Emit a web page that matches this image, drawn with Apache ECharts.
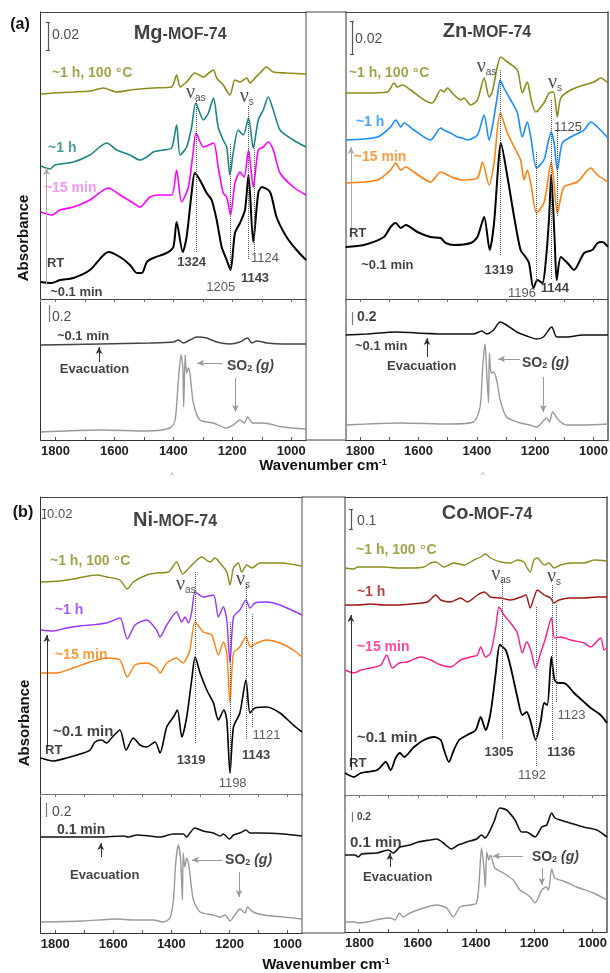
<!DOCTYPE html>
<html lang="en">
<head>
<meta charset="UTF-8">
<title>MOF-74 SO2 IR spectra</title>
<script src="https://cdn.jsdelivr.net/npm/echarts@6/dist/echarts.min.js"></script>
<style>
  html, body { margin: 0; padding: 0; background: #fff; }
  #main { width: 610px; height: 973px; }
</style>
</head>
<body>
<div id="main"></div>
<script>
// wavenumber range (cm-1), axis runs high -> low
var waveMin = 950, waveMax = 1850;
var tickLabels = [1800, 1600, 1400, 1200, 1000];

// ---- Mg-MOF-74 (a, left) : [wavenumber, absorbance a.u.] ----
var mgHeat = [[1850,205],[1807,206],[1739,207],[1683,208],[1638,211],[1592,207],[1547,209],[1468,211],[1406,212],[1389,224],[1377,212],[1355,217],[1327,226],[1298,222],[1276,227],[1264,229],[1253,221],[1231,214],[1208,204],[1191,219],[1174,217],[1151,221],[1140,216],[1123,221],[1106,226],[1084,232],[1061,227],[1016,226],[950,225]];
var mgOneHour = [[1850,133],[1818,130],[1802,134],[1739,137],[1683,144],[1626,156],[1592,149],[1547,144],[1513,139],[1490,142],[1468,147],[1434,149],[1406,151],[1389,174],[1377,144],[1355,152],[1338,172],[1324,196],[1298,179],[1281,186],[1264,201],[1248,172],[1231,159],[1219,152],[1208,124],[1197,146],[1180,169],[1163,164],[1145,181],[1129,151],[1112,179],[1095,189],[1078,202],[1061,189],[1038,169],[993,159],[950,152]];
var mgFifteen = [[1850,87],[1813,84],[1785,89],[1739,92],[1683,99],[1620,111],[1581,104],[1536,96],[1513,92],[1479,102],[1445,104],[1406,104],[1389,129],[1372,97],[1349,112],[1332,149],[1323,166],[1298,152],[1264,156],[1248,132],[1231,106],[1219,102],[1206,84],[1191,116],[1174,127],[1160,122],[1145,149],[1129,112],[1112,149],[1095,152],[1078,157],[1061,149],[1038,126],[993,112],[950,104]];
var mgRT = [[1850,17],[1813,16],[1785,19],[1739,21],[1683,29],[1620,47],[1581,42],[1547,34],[1524,26],[1507,26],[1490,37],[1468,41],[1423,46],[1400,52],[1389,77],[1368,47],[1355,62],[1338,106],[1327,126],[1310,119],[1287,106],[1270,99],[1253,79],[1236,52],[1219,39],[1206,29],[1191,66],[1174,76],[1157,89],[1145,124],[1129,57],[1112,106],[1100,112],[1072,107],[1050,82],[1016,62],[982,49],[950,39]];
var mgEvac = [[1850,95],[1649,96],[1479,97],[1400,98],[1383,100],[1366,97],[1344,100],[1321,103],[1287,102],[1253,98],[1208,96],[1174,98],[1148,102],[1134,97],[1117,99],[1083,97],[1027,96],[950,96]];
var mgGas = [[1850,8],[1649,10],[1490,9],[1411,12],[1394,20],[1383,60],[1374,85],[1368,73],[1365,33],[1360,85],[1355,67],[1349,72],[1344,67],[1332,37],[1310,20],[1264,17],[1219,12],[1197,15],[1174,20],[1159,17],[1148,23],[1131,17],[1097,17],[1027,13],[950,11]];

// ---- Zn-MOF-74 (a, right) ----
var znHeat = [[1850,206],[1787,206],[1707,207],[1684,216],[1673,212],[1656,214],[1627,209],[1581,199],[1553,196],[1524,209],[1513,207],[1501,211],[1478,204],[1455,199],[1444,201],[1421,194],[1398,199],[1375,221],[1358,202],[1347,207],[1330,232],[1318,242],[1295,237],[1261,229],[1244,206],[1227,217],[1215,201],[1198,187],[1170,196],[1152,206],[1137,207],[1124,182],[1112,201],[1078,209],[1032,214],[998,217],[975,221],[950,216]];
var znOneHour = [[1850,159],[1741,162],[1696,172],[1678,179],[1661,172],[1650,176],[1616,169],[1559,159],[1524,171],[1513,169],[1490,166],[1467,162],[1450,161],[1433,159],[1398,164],[1375,184],[1358,159],[1347,172],[1330,202],[1320,219],[1307,211],[1284,199],[1261,186],[1244,162],[1227,177],[1215,162],[1195,131],[1170,139],[1156,156],[1145,167],[1135,156],[1124,129],[1107,156],[1078,162],[1032,169],[1009,177],[986,172],[950,161]];
var znFifteen = [[1850,116],[1741,119],[1696,129],[1678,136],[1661,129],[1644,132],[1616,127],[1559,117],[1524,127],[1501,124],[1478,121],[1450,119],[1398,121],[1381,137],[1358,114],[1341,136],[1320,186],[1295,166],[1272,152],[1250,139],[1238,119],[1227,129],[1215,116],[1195,86],[1170,96],[1156,119],[1145,137],[1133,109],[1124,86],[1101,112],[1055,117],[1009,131],[986,124],[950,117]];
var znRT = [[1850,52],[1787,54],[1719,62],[1696,72],[1678,76],[1661,71],[1644,74],[1604,67],[1559,62],[1524,61],[1507,56],[1478,54],[1421,56],[1398,62],[1375,82],[1356,49],[1341,76],[1327,132],[1318,156],[1295,122],[1272,82],[1250,49],[1233,42],[1221,36],[1206,11],[1192,19],[1175,16],[1164,36],[1152,82],[1145,124],[1133,59],[1126,19],[1112,42],[1089,36],[1067,29],[1032,46],[1004,49],[986,56],[969,57],[950,52]];
var znEvac = [[1850,105],[1778,106],[1675,108],[1606,107],[1492,106],[1412,106],[1383,109],[1366,106],[1343,110],[1320,118],[1298,115],[1263,108],[1229,104],[1195,101],[1172,103],[1143,113],[1126,103],[1092,103],[1035,105],[950,105]];
var znGas = [[1850,15],[1664,17],[1492,16],[1412,18],[1389,33],[1380,73],[1372,96],[1366,67],[1360,37],[1357,87],[1351,67],[1343,68],[1332,60],[1320,40],[1298,23],[1252,17],[1218,15],[1195,13],[1160,22],[1151,18],[1140,28],[1120,20],[1092,15],[1035,15],[950,16]];

// ---- Ni-MOF-74 (b, left) ----
var niHeat = [[1850,212],[1784,213],[1738,215],[1703,217],[1657,219],[1623,217],[1577,214],[1552,205],[1531,212],[1485,219],[1451,221],[1410,222],[1382,232],[1361,220],[1336,227],[1295,237],[1267,232],[1250,236],[1232,231],[1209,222],[1198,209],[1186,226],[1169,231],[1158,222],[1140,229],[1123,226],[1095,231],[1049,231],[1014,231],[992,230],[950,228]];
var niOneHour = [[1850,164],[1807,163],[1761,166],[1715,168],[1680,169],[1623,171],[1577,176],[1552,155],[1525,169],[1485,174],[1451,164],[1439,157],[1416,169],[1382,182],[1364,172],[1353,177],[1341,171],[1330,182],[1318,202],[1290,197],[1255,199],[1238,177],[1221,187],[1209,174],[1198,131],[1186,177],[1164,184],[1143,194],[1129,186],[1112,191],[1072,192],[1026,189],[950,179]];
var niFifteen = [[1850,121],[1795,121],[1738,126],[1680,132],[1623,136],[1577,134],[1552,117],[1525,129],[1485,131],[1451,126],[1439,121],[1416,131],[1382,136],[1359,131],[1347,136],[1336,144],[1318,172],[1290,162],[1261,159],[1238,139],[1221,152],[1209,141],[1198,91],[1186,141],[1164,147],[1143,157],[1127,147],[1106,151],[1072,154],[1026,151],[980,144],[950,137]];
var niRT = [[1850,36],[1807,33],[1761,36],[1703,41],[1680,44],[1663,52],[1640,54],[1623,51],[1606,56],[1577,64],[1556,44],[1531,56],[1508,49],[1485,47],[1456,52],[1439,41],[1416,67],[1393,77],[1379,84],[1364,57],[1347,77],[1330,114],[1318,137],[1301,121],[1278,104],[1255,91],[1238,74],[1219,84],[1209,74],[1198,21],[1186,67],[1164,81],[1143,114],[1129,81],[1112,86],[1072,87],[1026,81],[980,69],[950,62]];
var niEvac = [[1850,96],[1761,96],[1646,96],[1565,97],[1548,96],[1519,98],[1473,97],[1439,96],[1393,99],[1359,99],[1347,96],[1336,100],[1319,105],[1290,102],[1255,100],[1232,97],[1221,99],[1200,94],[1186,98],[1164,100],[1143,103],[1129,100],[1095,100],[1014,99],[950,97]];
var niGas = [[1850,11],[1703,12],[1588,14],[1531,13],[1462,13],[1428,11],[1405,15],[1393,33],[1385,70],[1376,88],[1368,73],[1362,33],[1359,80],[1354,66],[1347,75],[1339,66],[1324,33],[1301,21],[1255,18],[1232,16],[1215,18],[1198,12],[1181,18],[1164,24],[1146,20],[1138,26],[1118,21],[1083,18],[1014,16],[950,14]];

// ---- Co-MOF-74 (b, right) ----
var coHeat = [[1850,227],[1819,226],[1808,228],[1762,228],[1716,228],[1670,227],[1624,227],[1579,228],[1556,232],[1538,233],[1510,228],[1476,232],[1441,230],[1407,235],[1384,238],[1367,241],[1350,237],[1315,233],[1281,232],[1258,235],[1235,233],[1226,228],[1214,223],[1201,235],[1189,237],[1166,230],[1149,232],[1132,227],[1109,230],[1075,232],[1029,232],[994,235],[950,234]];
var coOneHour = [[1850,190],[1808,190],[1762,191],[1716,190],[1670,190],[1624,191],[1567,193],[1538,200],[1521,195],[1487,193],[1453,197],[1430,193],[1395,200],[1372,203],[1350,198],[1315,197],[1281,195],[1246,198],[1229,200],[1214,187],[1201,197],[1189,205],[1166,200],[1144,197],[1132,192],[1115,195],[1075,197],[1029,197],[983,198],[950,198]];
var coFifteen = [[1850,125],[1819,122],[1796,125],[1762,127],[1727,130],[1707,140],[1687,127],[1664,132],[1636,133],[1590,138],[1556,135],[1521,130],[1487,128],[1453,135],[1418,138],[1395,140],[1384,148],[1367,138],[1350,142],[1332,168],[1321,188],[1304,180],[1281,172],[1258,162],[1241,142],[1226,153],[1212,145],[1195,127],[1178,142],[1161,157],[1141,177],[1130,157],[1109,158],[1075,155],[1029,152],[1006,148],[972,157],[960,145],[950,147]];
var coRT = [[1850,22],[1819,18],[1796,22],[1739,25],[1710,33],[1693,25],[1676,37],[1661,42],[1647,38],[1613,48],[1579,55],[1544,58],[1521,55],[1510,45],[1493,33],[1476,45],[1458,55],[1430,60],[1401,65],[1384,78],[1367,65],[1350,82],[1332,122],[1318,150],[1298,145],[1281,128],[1258,98],[1241,80],[1226,83],[1212,73],[1195,55],[1178,73],[1166,92],[1155,90],[1141,138],[1130,115],[1115,112],[1098,112],[1063,102],[1029,93],[1006,87],[972,80],[950,72]];
var coEvac = [[1850,77],[1816,77],[1804,75],[1793,78],[1741,79],[1701,82],[1684,79],[1661,85],[1627,87],[1598,90],[1558,92],[1535,93],[1512,89],[1484,83],[1461,87],[1432,90],[1398,93],[1381,97],[1369,94],[1340,109],[1318,124],[1295,122],[1266,112],[1243,100],[1226,100],[1197,95],[1174,105],[1157,107],[1140,119],[1129,114],[1111,112],[1077,109],[1031,105],[985,102],[950,95]];
var coGas = [[1850,10],[1816,10],[1804,9],[1775,10],[1730,13],[1695,14],[1678,12],[1663,19],[1650,15],[1627,19],[1569,25],[1535,27],[1501,24],[1478,15],[1455,25],[1421,27],[1398,29],[1389,52],[1381,84],[1373,65],[1368,45],[1363,80],[1356,72],[1350,77],[1335,64],[1306,59],[1272,52],[1249,42],[1232,39],[1214,35],[1197,29],[1174,42],[1159,45],[1151,42],[1140,63],[1129,54],[1100,51],[1054,45],[997,39],[950,32]];

// peak positions marked with dotted lines  [wavenumber, from, to]
var mgPeaks = [[1324,198,46],[1206,155,27],[1145,193,39],[1126,157,45]];
var znPeaks = [[1319,229,44],[1195,147,16],[1145,199,19],[1125,168,82]];
var niPeaks = [[1318,222,51],[1198,172,20],[1143,210,54],[1121,180,67]];
var coPeaks = [[1310,215,55],[1192,188,28],[1137,210,55],[1123,190,92]];

var SANS = 'Liberation Sans, Arial, sans-serif';
var SERIF = 'Liberation Serif, Times New Roman, serif';
var OLIVE = '#8c8c1c', TEAL = '#1b8585', MAGENTA = '#ff00ff', BLUE = '#1a8cff',
    ORANGE = '#ff7f0f', PURPLE = '#9933ff', DARKRED = '#a31515', PINK = '#ff1a8c',
    GAS = '#9a9a9a', INK = '#111';

var NU_AS = '{nu|ν}{sub|as}', NU_S = '{nu|ν}{sub|s}';
var HEAT = '{t|~1 h, 100 }{deg|o}{t|C}';
var SO2 = '{t|SO}{s2|2}{t| }{ti|(g)}';

// [w, a, text, colour, size, weight, align]
var panels = [
  { left: 40.7, width: 265.3, top: 12, upH: 287, lowH: 141, dotted: false,
    sideL: ['#333', 1], sideR: ['#888', 1.5],
    upper: [[mgHeat, OLIVE, 1.6], [mgOneHour, TEAL, 1.6], [mgFifteen, MAGENTA, 1.6], [mgRT, '#000', 2]],
    lower: [[mgEvac, '#444', 1.5], [mgGas, GAS, 1.4]],
    peaks: mgPeaks,
    upTags: [
      [1812, 226, HEAT, OLIVE, 14], [1825, 151, '{t|~1 h}', TEAL, 14], [1839, 111, '{t|~15 min}', '#f27df2', 14],
      [1829, 36, '{t|RT}', INK, 13], [1818, 7, '{t|~0.1 min}', INK, 13],
      [1324, 206, NU_AS, '#222', 12, 'normal', 'c'], [1151, 202, NU_S, '#222', 12, 'normal', 'c'],
      [1338, 37, '{t|1324}', INK, 13, 'bold', 'c'], [1239, 12, '{t|1205}', '#333', 13, 'normal', 'c'],
      [1123, 21, '{t|1143}', INK, 13, 'bold', 'c'], [1089, 41, '{t|1124}', '#333', 13, 'normal', 'c'],
      [1812, 264, '{t|0.02}', '#222', 14, 'normal'],
      [1377, 266, '{big|Mg}{mid|-MOF-74}', INK, 16, 'bold', 'c']
    ],
    lowTags: [
      [1812, 123, '{t|0.2}', '#222', 14, 'normal'], [1795, 104, '{t|~0.1 min}', INK, 13],
      [1785, 71, '{t|Evacuation}', INK, 13], [1218, 74, SO2, INK, 14]
    ],
    upArrows: [[1830, 14, 1830, 131, '#aaa']],
    lowArrows: [[1652, 78, 1652, 93, '#333'], [1234, 77, 1319, 77, '#999'], [1189, 62, 1189, 28, '#999']],
    upBar: [1826, 277, 249, true], lowBar: [1822, 135, 118, false] },

  { left: 345.7, width: 262.3, top: 12, upH: 287, lowH: 141, dotted: false,
    sideL: ['#999', 2], sideR: ['#555', 1.5],
    upper: [[znHeat, OLIVE, 1.6], [znOneHour, BLUE, 1.6], [znFifteen, ORANGE, 1.6], [znRT, '#000', 2]],
    lower: [[znEvac, '#111', 1.5], [znGas, GAS, 1.4]],
    peaks: znPeaks,
    upTags: [
      [1839, 226, HEAT, OLIVE, 14], [1815, 177, '{t|~1 h}', BLUE, 14], [1822, 142, '{t|~15 min}', ORANGE, 14],
      [1839, 66, '{t|RT}', INK, 13], [1797, 34, '{t|~0.1 min}', INK, 13],
      [1367, 232, NU_AS, '#222', 12, 'normal', 'c'], [1132, 216, NU_S, '#222', 12, 'normal', 'c'],
      [1087, 172, '{t|1125}', '#222', 13, 'normal', 'c'],
      [1324, 29, '{t|1319}', INK, 13, 'bold', 'c'], [1245, 6, '{t|1196}', '#333', 13, 'normal', 'c'],
      [1132, 11, '{t|1144}', INK, 13, 'bold', 'c'],
      [1818, 260, '{t|0.02}', '#222', 14, 'normal'],
      [1365, 268, '{big|Zn}{mid|-MOF-74}', INK, 16, 'bold', 'c']
    ],
    lowTags: [
      [1811, 123, '{t|0.2}', INK, 14], [1818, 94, '{t|~0.1 min}', INK, 13],
      [1708, 74, '{t|Evacuation}', INK, 13], [1245, 77, SO2, INK, 14]
    ],
    upArrows: [[1832, 59, 1832, 152, '#aaa']],
    lowArrows: [[1571, 83, 1571, 102, '#333'], [1252, 81, 1327, 81, '#999'], [1172, 63, 1172, 28, '#999']],
    upBar: [1829, 278, 245, true], lowBar: [1828, 128, 115, false] },

  { left: 40.7, width: 261.3, top: 497, upH: 297, lowH: 139, dotted: true,
    sideL: ['#333', 1], sideR: ['#888', 1.5],
    upper: [[niHeat, OLIVE, 1.4], [niOneHour, PURPLE, 1.4], [niFifteen, ORANGE, 1.4], [niRT, '#000', 1.6]],
    lower: [[niEvac, '#111', 1.5], [niGas, GAS, 1.4]],
    peaks: niPeaks,
    upTags: [
      [1818, 233, HEAT, OLIVE, 14], [1801, 184, '{t|~1 h}', PURPLE, 14], [1801, 139, '{t|~15 min}', ORANGE, 14],
      [1808, 62, '{t|~0.1 min}', INK, 15], [1835, 44, '{t|RT}', INK, 13],
      [1350, 209, NU_AS, '#222', 12, 'normal', 'c'], [1153, 214, NU_S, '#222', 12, 'normal', 'c'],
      [1332, 34, '{t|1319}', INK, 13, 'bold', 'c'], [1189, 11, '{t|1198}', '#333', 13, 'normal', 'c'],
      [1108, 39, '{t|1143}', INK, 13, 'bold', 'c'], [1072, 59, '{t|1121}', '#333', 13, 'normal', 'c'],
      [1828, 280, '{t|0.02}', '#222', 13, 'normal'],
      [1387, 274, '{big|Ni}{mid|-MOF-74}', INK, 16, 'bold', 'c']
    ],
    lowTags: [
      [1811, 121, '{t|0.2}', '#222', 14, 'normal'], [1794, 103, '{t|0.1 min}', INK, 14],
      [1749, 58, '{t|Evacuation}', INK, 13], [1215, 73, SO2, INK, 14]
    ],
    upArrows: [[1829, 47, 1829, 159, '#333']],
    lowArrows: [[1643, 76, 1643, 90, '#333'], [1225, 73, 1329, 73, '#999'], [1167, 61, 1167, 36, '#999']],
    upBar: [1839, 285, 276, true], lowBar: [1832, 130, 116, false] },

  { left: 345, width: 262, top: 497, upH: 298, lowH: 137, dotted: true,
    sideL: ['#999', 2], sideR: ['#555', 1.5],
    upper: [[coHeat, OLIVE, 1.4], [coOneHour, DARKRED, 1.4], [coFifteen, PINK, 1.4], [coRT, '#000', 1.8]],
    lower: [[coEvac, '#111', 1.6], [coGas, GAS, 1.4]],
    peaks: coPeaks,
    upTags: [
      [1812, 245, HEAT, OLIVE, 14], [1809, 203, '{t|~1 h}', DARKRED, 14], [1809, 148, '{t|~15 min}', PINK, 14],
      [1809, 57, '{t|~0.1 min}', INK, 15], [1836, 32, '{t|RT}', INK, 13],
      [1314, 220, NU_AS, '#222', 12, 'normal', 'c'], [1132, 218, NU_S, '#222', 12, 'normal', 'c'],
      [1321, 43, '{t|1305}', INK, 13, 'bold', 'c'], [1208, 20, '{t|1192}', '#333', 13, 'normal', 'c'],
      [1108, 43, '{t|1136}', INK, 13, 'bold', 'c'], [1072, 80, '{t|1123}', '#333', 13, 'normal', 'c'],
      [1809, 274, '{t|0.1}', '#222', 14, 'normal'],
      [1362, 282, '{big|Co}{mid|-MOF-74}', INK, 16, 'bold', 'c']
    ],
    lowTags: [
      [1809, 115, '{t|0.2}', INK, 10], [1833, 89, '{t|0.1 min}', INK, 15],
      [1788, 55, '{t|Evacuation}', INK, 13], [1208, 75, SO2, INK, 14]
    ],
    upArrows: [[1830, 25, 1830, 180, '#333']],
    lowArrows: [[1696, 65, 1696, 79, '#333'], [1239, 76, 1342, 76, '#999'], [1174, 64, 1174, 47, '#999']],
    upBar: [1830, 286, 266, true], lowBar: [1826, 120, 110, false] }
];

function richFor(color, size, weight) {
  function f(extra) {
    var o = { color: color, fontSize: size, fontWeight: weight, fontFamily: SANS };
    for (var k in extra) o[k] = extra[k];
    return o;
  }
  return {
    t: f({}),
    ti: f({ fontStyle: 'italic' }),
    deg: f({ fontSize: 8, padding: [0, 1, 7, 1] }),
    sub: f({ fontSize: 10, fontWeight: 'normal', verticalAlign: 'bottom' }),
    s2: f({ fontSize: 9, verticalAlign: 'bottom' }),
    nu: f({ fontFamily: SERIF, fontWeight: 'normal', fontSize: 20 }),
    big: f({ fontSize: 20, verticalAlign: 'bottom' }),
    mid: f({ fontSize: 16, verticalAlign: 'bottom' })
  };
}

function tag(t) {
  var center = t[6] === 'c';
  var weight = t[5] || 'bold';
  return {
    value: [t[0], t[1]],
    label: {
      show: true, formatter: t[2], position: center ? 'inside' : 'right', distance: 0,
      align: center ? 'center' : 'left', verticalAlign: 'middle',
      color: t[3], fontSize: t[4], fontWeight: weight, fontFamily: SANS,
      rich: richFor(t[3], t[4], weight)
    }
  };
}

function seg(x1, y1, x2, y2, style, endSymbol) {
  return [
    { coord: [x1, y1], symbol: 'none', lineStyle: style },
    { coord: [x2, y2], symbol: endSymbol || 'none', symbolSize: [5, 7] }
  ];
}

function xBase(grid, pos, extra) {
  var ax = {
    type: 'value', gridIndex: grid, position: pos, min: waveMin, max: waveMax, inverse: true,
    splitNumber: 9, splitLine: { show: false },
    axisLine: { show: false, onZero: false }, axisTick: { show: false }, axisLabel: { show: false }
  };
  for (var k in extra) ax[k] = extra[k];
  return ax;
}

function yPair(grid, h, p) {
  return [
    { type: 'value', gridIndex: grid, position: 'left', min: 0, max: h,
      axisLine: { show: true, onZero: false, lineStyle: { color: p.sideL[0], width: p.sideL[1] } },
      axisTick: { show: false }, axisLabel: { show: false }, splitLine: { show: false } },
    { type: 'value', gridIndex: grid, position: 'right', min: 0, max: h,
      axisLine: { show: true, onZero: false, lineStyle: { color: p.sideR[0], width: p.sideR[1] } },
      axisTick: { show: false }, axisLabel: { show: false }, splitLine: { show: false } }
  ];
}

var grids = [], xAxes = [], yAxes = [], series = [];

panels.forEach(function (p) {
  var gUp = grids.length;
  grids.push({ left: p.left, top: p.top, width: p.width, height: p.upH, outerBoundsMode: 'none' });
  var gLow = grids.length;
  grids.push({ left: p.left, top: p.top + p.upH, width: p.width, height: p.lowH, outerBoundsMode: 'none' });

  var xUp = xAxes.length;
  xAxes.push(xBase(gUp, 'top', { axisLine: { show: true, onZero: false, lineStyle: { color: '#444', width: 1 } } }));
  xAxes.push(xBase(gLow, 'top', {
    axisLine: { show: true, onZero: false, lineStyle: { color: p.dotted ? '#666' : '#444', width: p.dotted ? 1.2 : 1, type: p.dotted ? 'dotted' : 'solid' } },
    axisTick: { show: true, inside: true, length: 3, lineStyle: { color: '#777' } }
  }));
  var xLow = xAxes.length;
  xAxes.push(xBase(gLow, 'bottom', {
    axisLine: { show: true, onZero: false, lineStyle: { color: '#333', width: 1.2 } },
    axisTick: { show: true, inside: true, length: 3, lineStyle: { color: '#555' } },
    axisLabel: {
      show: true, margin: 5, color: '#222', fontSize: 13, fontWeight: 'bold', fontFamily: SANS,
      showMinLabel: false, showMaxLabel: false,
      formatter: function (v) { return tickLabels.indexOf(v) >= 0 ? String(v) : ''; }
    }
  }));

  var yUp = yAxes.length;
  yAxes.push.apply(yAxes, yPair(gUp, p.upH, p));
  var yLow = yAxes.length;
  yAxes.push.apply(yAxes, yPair(gLow, p.lowH, p));

  p.upper.forEach(function (s) {
    series.push({ type: 'line', data: s[0], xAxisIndex: xUp, yAxisIndex: yUp, symbol: 'none', smooth: 0.25,
      lineStyle: { color: s[1], width: s[2] }, silent: true, z: 3 });
  });
  p.lower.forEach(function (s) {
    series.push({ type: 'line', data: s[0], xAxisIndex: xLow, yAxisIndex: yLow, symbol: 'none', smooth: 0.25,
      lineStyle: { color: s[1], width: s[2] }, silent: true, z: 3 });
  });

  // annotations: peak guides, arrows, scale bars
  var upLines = [];
  p.peaks.forEach(function (g) {
    upLines.push(seg(g[0], g[1], g[0], g[2], { type: 'dotted', color: '#555', width: 1 }));
  });
  p.upArrows.forEach(function (a) {
    upLines.push(seg(a[0], a[1], a[2], a[3], { type: 'solid', color: a[4], width: 1 }, 'arrow'));
  });
  var bar = p.upBar, barStyle = { type: 'solid', color: '#555', width: 1.2 };
  upLines.push(seg(bar[0], bar[1], bar[0], bar[2], barStyle));
  if (bar[3]) {
    upLines.push(seg(bar[0] + 7, bar[1], bar[0] - 7, bar[1], barStyle));
    upLines.push(seg(bar[0] + 7, bar[2], bar[0] - 7, bar[2], barStyle));
  }
  var lowLines = [];
  p.lowArrows.forEach(function (a) {
    lowLines.push(seg(a[0], a[1], a[2], a[3], { type: 'solid', color: a[4], width: 1 }, 'arrow'));
  });
  var lb = p.lowBar;
  lowLines.push(seg(lb[0], lb[1], lb[0], lb[2], { type: 'solid', color: '#777', width: 1.2 }));

  series.push({ type: 'scatter', xAxisIndex: xUp, yAxisIndex: yUp, symbolSize: 0, silent: true, z: 5,
    data: p.upTags.map(tag),
    markLine: { silent: true, symbol: 'none', animation: false, label: { show: false }, data: upLines } });
  series.push({ type: 'scatter', xAxisIndex: xLow, yAxisIndex: yLow, symbolSize: 0, silent: true, z: 5,
    data: p.lowTags.map(tag),
    markLine: { silent: true, symbol: 'none', animation: false, label: { show: false }, data: lowLines } });
});

function axisTitle(x, y) {
  return { type: 'text', x: x, y: y, silent: true,
    style: { text: '{m|Wavenumber cm}{p|-1}', align: 'center', verticalAlign: 'middle',
      rich: { m: { fontSize: 15, fontWeight: 'bold', fontFamily: SANS, fill: '#111' },
              p: { fontSize: 9, fontWeight: 'bold', fontFamily: SANS, fill: '#111', verticalAlign: 'top' } } } };
}
function absTitle(x, y) {
  return { type: 'text', x: x, y: y, rotation: Math.PI / 2, silent: true,
    style: { text: 'Absorbance', align: 'center', verticalAlign: 'middle', fontSize: 15, fontWeight: 'bold', fontFamily: SANS, fill: '#111' } };
}
function gapLine(x1, x2, y) {
  return { type: 'line', silent: true, shape: { x1: x1, y1: y, x2: x2, y2: y }, style: { stroke: '#444', lineWidth: 1 } };
}
function blockTag(x, y, t) {
  return { type: 'text', x: x, y: y, silent: true,
    style: { text: t, align: 'center', verticalAlign: 'middle', fontSize: 16, fontWeight: 'bold', fontFamily: SANS, fill: '#111' } };
}

var option = {
  animation: false,
  backgroundColor: '#fff',
  grid: grids,
  xAxis: xAxes,
  yAxis: yAxes,
  series: series,
  graphic: [
    blockTag(20, 25, '(a)'), blockTag(23, 513, '(b)'),
    absTitle(24, 238), absTitle(25, 723),
    axisTitle(323, 466), axisTitle(326, 965),
    gapLine(306, 345.7, 12), gapLine(306, 345.7, 440),
    gapLine(302, 345, 497), gapLine(302, 345, 933),
    { type: 'text', x: 172, y: 475, silent: true, style: { text: '^', align: 'center', verticalAlign: 'middle', fontSize: 7, fill: '#888' } },
    { type: 'text', x: 483, y: 475, silent: true, style: { text: '^', align: 'center', verticalAlign: 'middle', fontSize: 7, fill: '#888' } }
  ]
};

var chart = echarts.init(document.getElementById('main'));
chart.setOption(option);
</script>
</body>
</html>
